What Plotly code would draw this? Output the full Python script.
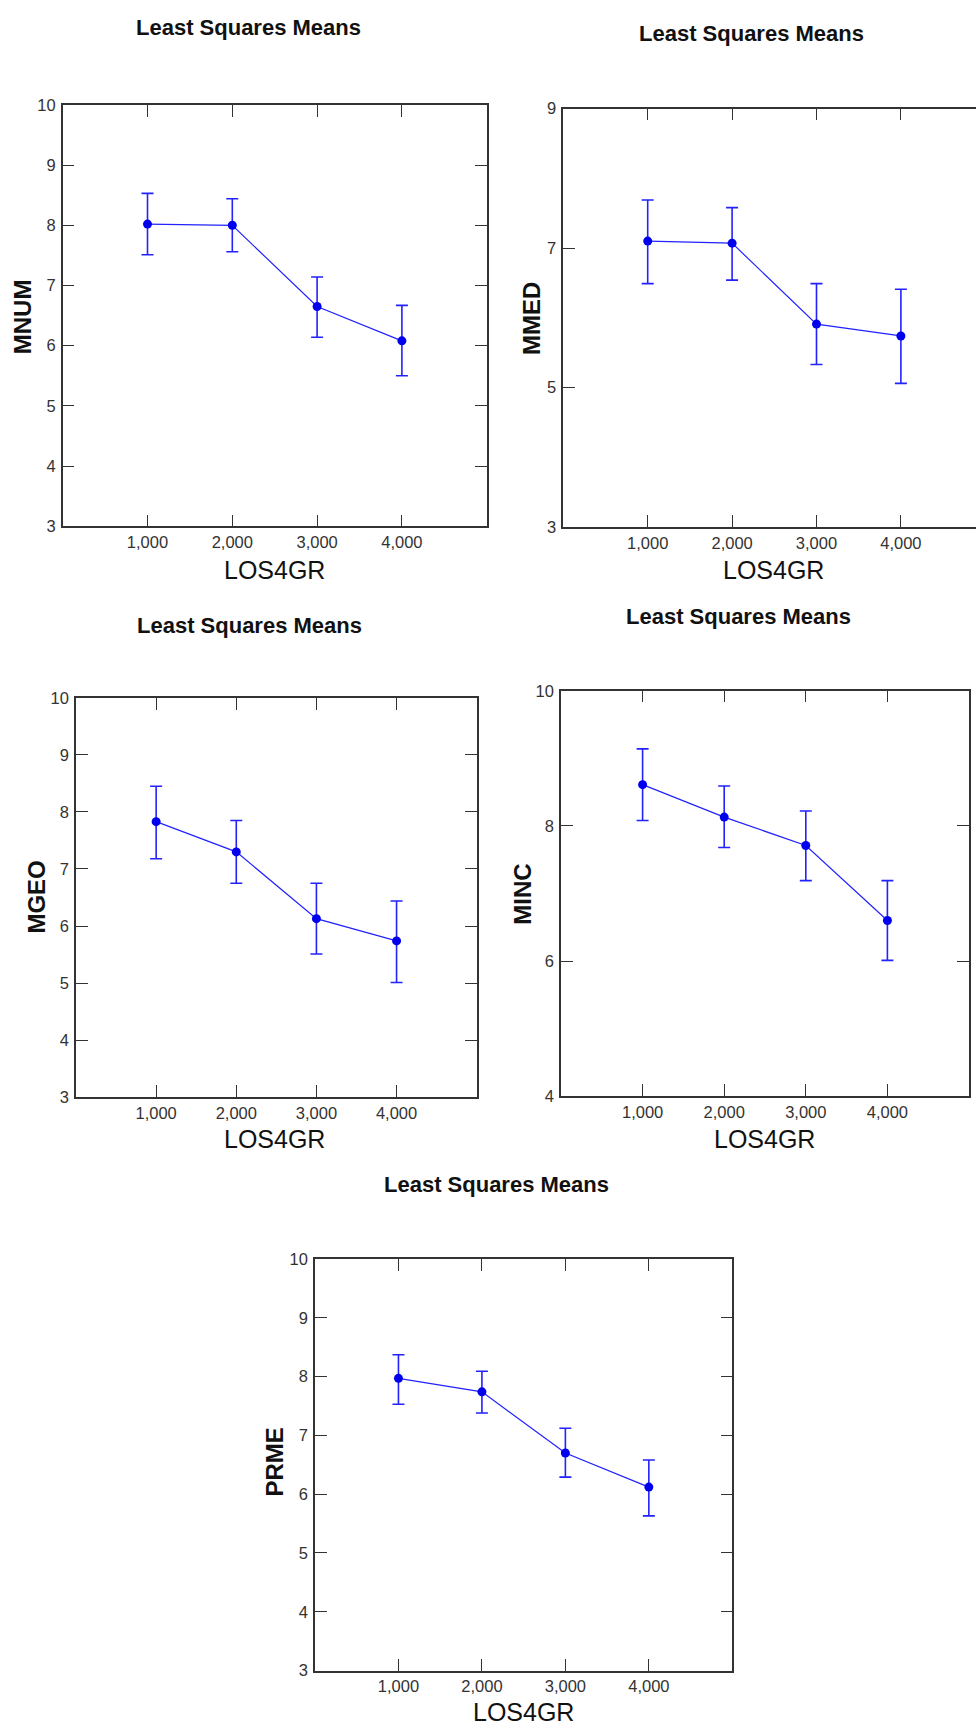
import plotly.graph_objects as go

W, H = 976, 1733

los4gr = [1000, 2000, 3000, 4000]

mnum = [8.02, 8.00, 6.65, 6.08]
mnum_hi = [8.53, 8.44, 7.14, 6.67]
mnum_lo = [7.51, 7.56, 6.14, 5.50]

mmed = [7.10, 7.07, 5.91, 5.74]
mmed_hi = [7.69, 7.58, 6.49, 6.41]
mmed_lo = [6.49, 6.54, 5.33, 5.06]

mgeo = [7.83, 7.30, 6.13, 5.74]
mgeo_hi = [8.45, 7.85, 6.75, 6.44]
mgeo_lo = [7.18, 6.75, 5.51, 5.01]

minc = [8.61, 8.13, 7.71, 6.60]
minc_hi = [9.14, 8.59, 8.22, 7.19]
minc_lo = [8.08, 7.68, 7.19, 6.01]

prme = [7.97, 7.74, 6.70, 6.12]
prme_hi = [8.37, 8.09, 7.12, 6.58]
prme_lo = [7.53, 7.38, 6.29, 5.63]

FONT = "Liberation Sans, Arial, sans-serif"
AXC = "#333333"
BLUE = "#2222ff"


def px(x):
    return x / W


def py(y):
    return 1 - y / H


# name, values, hi, lo, y ticks, x range, box (left, right, top, bottom) px,
# title pos, ytitle pos, xtitle pos
panels = [
    ("MNUM", mnum, mnum_hi, mnum_lo, list(range(3, 11)), [0, 5000],
     (62.7, 486.7, 96.9, 522.7), (248, 18.5), (22.7, 310.8), (274, 567)),
    ("MMED", mmed, mmed_hi, mmed_lo, [3, 5, 7, 9], [0, 4890],
     (563.3, 976, 100.6, 523.5), (751.7, 25.2), (531.7, 312.6), (773, 567)),
    ("MGEO", mgeo, mgeo_hi, mgeo_lo, list(range(3, 11)), [0, 5000],
     (76, 476.7, 696.1, 1099.6), (250, 622.9), (37, 897.9), (274, 1142)),
    ("MINC", minc, minc_hi, minc_lo, [4, 6, 8, 10], [0, 5000],
     (561, 969, 688.9, 1098.6), (738.3, 613.9), (521.7, 894.3), (764, 1142)),
    ("PRME", prme, prme_hi, prme_lo, list(range(3, 11)), [0, 5000],
     (315, 732.3, 1263.1, 1679), (496.7, 1187.4), (275, 1468.8), (523.7, 1721)),
]

fig = go.Figure()
annotations = []
layout = {}

for i, (name, vals, hi, lo, yt, xr, box, tpos, ytpos, xtpos) in enumerate(panels, start=1):
    sfx = "" if i == 1 else str(i)
    l, r, t, b = box
    err_up = [h - v for h, v in zip(hi, vals)]
    err_dn = [v - lo_ for v, lo_ in zip(vals, lo)]
    fig.add_trace(go.Scatter(
        x=los4gr, y=vals, mode="lines+markers", xaxis="x" + sfx, yaxis="y" + sfx,
        line=dict(color=BLUE, width=1.2),
        marker=dict(color="#0000ee", size=9),
        error_y=dict(type="data", symmetric=False, array=err_up, arrayminus=err_dn,
                     color=BLUE, thickness=1.6, width=6),
        showlegend=False, cliponaxis=False,
    ))
    right_cut = xr[1] < 5000
    layout["xaxis" + sfx] = dict(
        domain=[px(l), px(r)], range=xr, anchor="y" + sfx,
        tickvals=los4gr, tickformat=",", ticks="inside", ticklen=12, tickwidth=1.3,
        tickcolor=AXC, showline=True, linecolor=AXC, linewidth=1.5, mirror="ticks",
        showgrid=False, zeroline=False, ticklabelstandoff=0,
        tickfont=dict(family=FONT, size=16.5, color="#333333"),
    )
    layout["yaxis" + sfx] = dict(
        domain=[py(b), py(t)], range=[yt[0], yt[-1]], anchor="x" + sfx,
        tickvals=yt, ticks="inside", ticklen=12, tickwidth=1.3,
        tickcolor=AXC, showline=True, linecolor=AXC, linewidth=1.5,
        mirror=False if right_cut else "ticks",
        showgrid=False, zeroline=False, ticklabelstandoff=2,
        tickfont=dict(family=FONT, size=16.5, color="#333333"),
    )
    if right_cut:
        # right edge of this panel falls outside the page: only tick stubs show
        layout["yaxis6"] = dict(
            overlaying="y" + sfx, side="right", anchor="x" + sfx,
            range=[yt[0], yt[-1]], tickvals=yt, ticks="inside", ticklen=3,
            tickwidth=1.3, tickcolor=AXC, showline=False, showticklabels=False,
            showgrid=False, zeroline=False,
        )
    annotations.append(dict(
        text="<b>Least Squares Means</b>", x=px(tpos[0]), y=py(tpos[1]),
        xref="paper", yref="paper", showarrow=False, xanchor="center", yanchor="middle",
        font=dict(family=FONT, size=22, color="#111111"),
    ))
    annotations.append(dict(
        text="<b>%s</b>" % name, x=px(ytpos[0]), y=py(ytpos[1]), textangle=-90,
        xref="paper", yref="paper", showarrow=False, xanchor="center", yanchor="middle",
        font=dict(family=FONT, size=24, color="#111111"),
    ))
    annotations.append(dict(
        text="LOS4GR", x=px(xtpos[0]), y=py(xtpos[1]),
        xref="paper", yref="paper", showarrow=False, xanchor="center", yanchor="middle",
        font=dict(family=FONT, size=25, color="#111111"),
    ))

fig.update_layout(
    width=W, height=H, margin=dict(l=0, r=0, t=0, b=0),
    paper_bgcolor="white", plot_bgcolor="white",
    annotations=annotations, **layout,
)

fig.write_html("out.html", config={"displayModeBar": False},
               post_script="document.body.style.margin='0';")
